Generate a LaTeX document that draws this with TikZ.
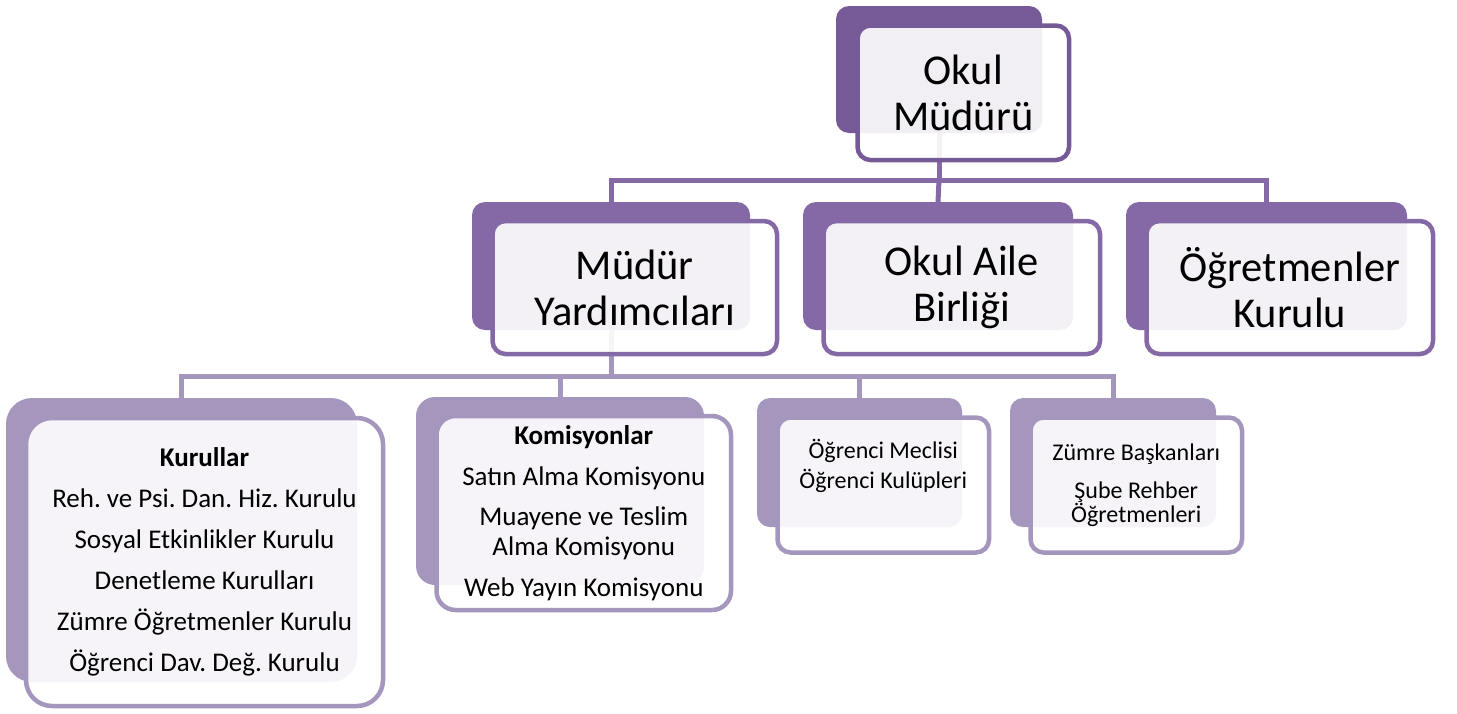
\documentclass[tikz,border=0pt]{standalone}
\usepackage{fontspec}
\setmainfont{Carlito}
\usetikzlibrary{calc}

\definecolor{topPurple}{RGB}{118,90,151}
\definecolor{midPurple}{RGB}{133,104,166}
\definecolor{lowPurple}{RGB}{165,150,190}

\frenchspacing

\begin{document}
\begin{tikzpicture}[x=1pt, y=-1pt,
		back/.style={rounded corners=13pt, inner sep=0pt, outer sep=0pt},
		front/.style={rounded corners=13pt, inner sep=0pt, outer sep=0pt, line width=4.5pt, fill=white, fill opacity=0.9, text opacity=1, align=center},
		bigtext/.style={font=\fontsize{42.5}{46}\selectfont},
		midtext/.style={font=\fontsize{27}{30}\selectfont},
		smalltext/.style={font=\fontsize{24}{24}\selectfont},
		link/.style={line width=5pt}]
			\useasboundingbox (0,0) rectangle (1457,713);

			\node[back, fill=topPurple, minimum width=206pt, minimum height=127pt] (okulB) at (939,69.5) {};

			\node[back, fill=midPurple, minimum width=278pt, minimum height=128pt] (mudurB) at (611,266) {};
			\node[back, fill=midPurple, minimum width=270pt, minimum height=128pt] (aileB) at (938,266) {};
			\node[back, fill=midPurple, minimum width=281pt, minimum height=128pt] (ogrB) at (1266.5,266) {};

			\node[back, fill=lowPurple, rounded corners=26pt, minimum width=351pt, minimum height=284pt] (kurB) at (181.5,540) {};
			\node[back, fill=lowPurple, rounded corners=19pt, minimum width=288pt, minimum height=188pt] (komB) at (560,491) {};
			\node[back, fill=lowPurple, minimum width=205pt, minimum height=129pt] (mecB) at (859.5,462.5) {};
			\node[back, fill=lowPurple, minimum width=206pt, minimum height=129pt] (zumB) at (1113,462.5) {};

			\coordinate (j1) at (939,180);
			\coordinate (j2) at (611,376);
			\draw[link, midPurple] (okulB.south) -- (j1);
			\draw[link, midPurple] (mudurB.north) |- (j1) -| (ogrB.north);
			\draw[link, midPurple] (j1) -- (aileB.north);
			\draw[link, lowPurple] (mudurB.south) -- (j2);
			\draw[link, lowPurple] (kurB.north) |- (j2) -| (zumB.north);
			\draw[link, lowPurple] (komB.north) -- (komB.north |- j2);
			\draw[link, lowPurple] (mecB.north) -- (mecB.north |- j2);

			\node[front, bigtext, draw=topPurple, minimum width=211.5pt, minimum height=134.5pt] (okul) at (963.25,92.75) {Okul\\Müdürü};

			\node[front, bigtext, draw=midPurple, minimum width=284.5pt, minimum height=133pt] (mudur) at (634.75,287.5) {Müdür\\Yardımcıları};
			\node[front, bigtext, draw=midPurple, minimum width=276.5pt, minimum height=133pt] (aile) at (961.75,287.5) {Okul Aile\\Birliği};
			\node[front, bigtext, draw=midPurple, minimum width=286.5pt, minimum height=133pt] (ogr) at (1289.75,287.5) {Öğretmenler\\Kurulu};

			\node[front, midtext, draw=lowPurple, rounded corners=26pt, minimum width=357pt, minimum height=288pt] (kur) at (204.5,562) {\textbf{Kurullar}\\[11pt]Reh. ve Psi. Dan. Hiz. Kurulu\\[11pt]Sosyal Etkinlikler Kurulu\\[11pt]Denetleme Kurulları\\[11pt]Zümre Öğretmenler Kurulu\\[11pt]Öğrenci Dav. Değ. Kurulu};
			\node[front, midtext, draw=lowPurple, rounded corners=19pt, minimum width=294.5pt, minimum height=194pt] (kom) at (583.75,513) {\textbf{Komisyonlar}\\[11pt]Satın Alma Komisyonu\\[10pt]Muayene ve Teslim\\Alma Komisyonu\\[11pt]Web Yayın Komisyonu};
			\node[front, draw=lowPurple, minimum width=211.5pt, minimum height=135pt] (mec) at (883.25,485) {};
			\node[smalltext, align=center] (mecT) at ([yshift=19pt]mec.center) {Öğrenci Meclisi\\[6pt]Öğrenci Kulüpleri};
			\node[front, smalltext, draw=lowPurple, minimum width=211.5pt, minimum height=135pt] (zum) at (1136.25,485) {Zümre Başkanları\\[14pt]Şube Rehber\\Öğretmenleri};
		\end{tikzpicture}
\end{document}
